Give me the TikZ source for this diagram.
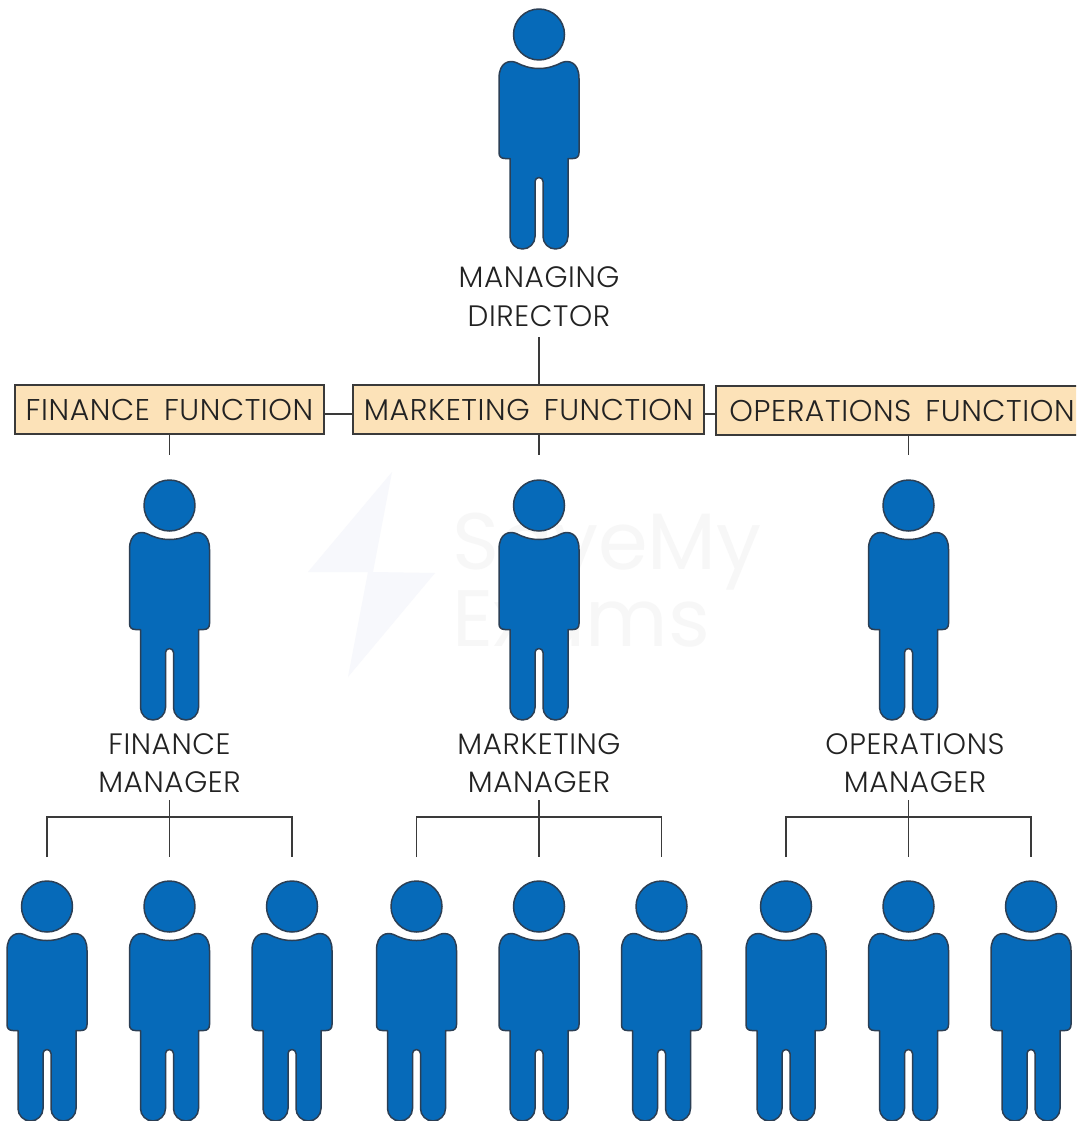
\documentclass[tikz,border=0pt]{standalone}
\usepackage{fontspec}
\setmainfont{Poppins}
\newfontfamily\lblfont[LetterSpace=2,WordSpace=1.6]{Poppins Light}
\newfontfamily\wmfont{Poppins}
\definecolor{personblue}{HTML}{066AB9}
\definecolor{personline}{HTML}{2B3F55}
\definecolor{boxfill}{HTML}{FCE2B8}
\definecolor{inkline}{HTML}{3A3A3A}
\definecolor{inktext}{HTML}{222222}
\definecolor{wmbolt}{HTML}{F7F8FC}
\definecolor{wmtext}{HTML}{F7F7F7}
\tikzset{
  x=1pt,y=-1pt,
  figure/.style={draw=personline,fill=personblue,line width=1.5pt,line join=round},
  person/.pic={
    \path[figure] (0,0) circle[radius=25.5];
    \path[figure] (0,34) .. controls (-9,34) and (-16,31.5) .. (-23,28)
      .. controls (-29,25.5) and (-40,27) .. (-40,44)
      -- (-40,118) .. controls (-40,122) and (-38,124) .. (-34,124)
      -- (-29,124) -- (-29,202) arc[start angle=180,end angle=0,radius=12.5]
      -- (-4,147) arc[start angle=-180,end angle=0,radius=4]
      -- (4,202) arc[start angle=180,end angle=0,radius=12.5]
      -- (29,124) -- (34,124) .. controls (38,124) and (40,122) .. (40,118)
      -- (40,44) .. controls (40,27) and (29,25.5) .. (23,28)
      .. controls (16,31.5) and (9,34) .. (0,34) -- cycle;
  },
  funcbox/.style={draw=inkline,fill=boxfill,line width=1.5pt,inner sep=0pt,
    minimum height=49pt,text height=21pt,text depth=0pt,text=inktext,
    font=\lblfont\fontsize{30}{30}\selectfont},
  rolelabel/.style={align=center,inner sep=0pt,text=inktext,
    font=\lblfont\fontsize{29.5}{38.5}\selectfont},
  link/.style={draw=inkline,line width=1.3pt},
  watermark/.style={text=wmtext,align=left,inner sep=0pt,anchor=west,
    font=\wmfont\fontsize{80}{66}\selectfont}
}
\begin{document}
\begin{tikzpicture}
\useasboundingbox (0,0) rectangle (1076,1121);
\clip (0,0) rectangle (1076,1121);
\fill[white] (0,0) rectangle (1076,1121);
% watermark
\fill[wmbolt] (392,472) -- (308,572) -- (368,572) -- (348,677) -- (435,573) -- (373,572) -- cycle;
\node[watermark] (wm) at (452,580) {SaveMy\\Exams};
% people
\foreach \nm/\px/\py in {md/539/34.5,
  mf/169.5/505.5,mm/539/505.5,mo/908.5/505.5,
  a/47/906.5,b/169.5/906.5,c/292/906.5,
  d/416.5/906.5,e/539/906.5,f/661.5/906.5,
  g/786/906.5,h/908.5/906.5,i/1031/906.5}
  \path pic (\nm) at (\px,\py) {person};
% labels
\node[rolelabel] (lmd) at (539,296.5) {MANAGING\\DIRECTOR};
\node[rolelabel] (lf) at (169.5,763) {FINANCE\\MANAGER};
\node[rolelabel] (lm) at (539,763) {MARKETING\\MANAGER};
\node[rolelabel] (lo) at (915,763) {OPERATIONS\\MANAGER};
% boxes
\node[funcbox,minimum width=309pt] (bf) at (169.5,409.5) {FINANCE FUNCTION};
\node[funcbox,minimum width=351pt] (bm) at (528.5,409.5) {MARKETING FUNCTION};
\node[funcbox,minimum width=372pt] (bo) at (902,410.5) {OPERATIONS FUNCTION};
% free ends
\coordinate (mdtop) at (539,337);
\coordinate (df) at (169.5,455);
\coordinate (dm) at (539,455);
\coordinate (do) at (908.5,455);
\foreach \t/\l/\c/\r in {lf/47/169.5/292,lm/416.5/539/661.5,lo/786/908.5/1031}{
  \coordinate (\t-top) at (\c,800);
  \coordinate (\t-mid) at (\c,857);
  \draw[link] (\t-top) -- (\t-mid);
  \draw[link] (\l,857) -- (\l,817) -- (\r,817) -- (\r,857);
}
% connectors
\draw[link] (mdtop) -- (mdtop |- bm.north);
\draw[link] (bf.east |- 0,414) -- (bm.west |- 0,414);
\draw[link] (bm.east |- 0,414) -- (bo.west |- 0,414);
\draw[link] (bf.south -| df) -- (df);
\draw[link] (bm.south -| dm) -- (dm);
\draw[link] (bo.south -| do) -- (do);
\end{tikzpicture}
\end{document}
